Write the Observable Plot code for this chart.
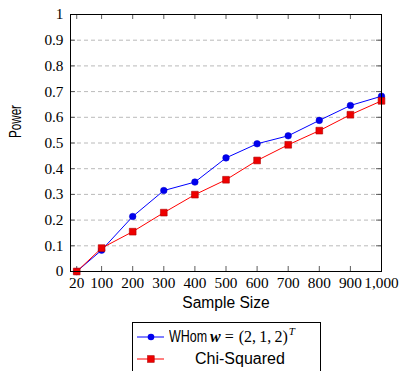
<!DOCTYPE html>
<html>
<head>
<meta charset="utf-8">
<script src="https://cdn.jsdelivr.net/npm/d3@7"></script>
<script src="https://cdn.jsdelivr.net/npm/@observablehq/plot@0.6"></script>
<style>
  html, body { margin: 0; padding: 0; background: #fff; }
  #wrap { position: relative; width: 401px; height: 371px; overflow: hidden; }
  #legend {
    position: absolute; left: 132px; top: 322px; width: 189px; height: 60px;
    border: 1px solid #000; background: #fff; box-sizing: border-box;
    font-family: "Liberation Sans", Arial, sans-serif; font-size: 16px; color: #000;
  }
  .sw { position: absolute; left: 4px; }
  .t { position: absolute; white-space: nowrap; line-height: 20px; height: 20px; }
  .m { font-family: "Liberation Serif", "Times New Roman", serif; font-size: 16px; }
  .whom { display: inline-block; width: 38px; transform: scaleX(0.78); transform-origin: left center; }
</style>
</head>
<body>
<div id="wrap">
  <div id="chart"></div>
  <div id="legend"></div>
</div>
<script>
const sampleSizes = [20, 100, 200, 300, 400, 500, 600, 700, 800, 900, 1000];
const whomPower   = [0, 0.083, 0.214, 0.315, 0.348, 0.442, 0.497, 0.528, 0.588, 0.646, 0.682];
const chiPower    = [0, 0.091, 0.155, 0.229, 0.299, 0.357, 0.432, 0.493, 0.548, 0.610, 0.664];
const xTicks = [20, 100, 200, 300, 400, 500, 600, 700, 800, 900, 1000];
const yTicks = [0, 0.1, 0.2, 0.3, 0.4, 0.5, 0.6, 0.7, 0.8, 0.9, 1];
const gridTicks = [0.1, 0.2, 0.3, 0.4, 0.5, 0.6, 0.7, 0.8, 0.9];
const seriesNames = ["WHom", "Chi-Squared"];

const whom = sampleSizes.map((x, i) => ({x, y: whomPower[i]}));
const chi = sampleSizes.map((x, i) => ({x, y: chiPower[i]}));

const W = 401, H = 322, mL = 70, mR = 20, mT = 14, mB = 51;
const pw = W - mL - mR, ph = H - mT - mB;
const serif = "Liberation Serif, Times New Roman, serif";
const sans = "Liberation Sans, Arial, sans-serif";
const fmtX = d => d3.format(",")(d);
const fmtY = d => String(d);

const plot = Plot.plot({
  width: W, height: H,
  marginLeft: mL, marginRight: mR, marginTop: mT, marginBottom: mB,
  style: {fontFamily: sans, fontSize: "15px", background: "#fff", color: "#000", overflow: "visible"},
  x: {domain: [0, 1000], axis: null},
  y: {domain: [0, 1], axis: null},
  marks: [
    Plot.ruleY(gridTicks, {y: d => d, stroke: "#a8a8a8", strokeWidth: 0.8, strokeDasharray: "4,3"}),
    Plot.tickY(yTicks, {y: d => d, insetRight: pw - 5, stroke: "#333", strokeWidth: 0.8}),
    Plot.tickY(yTicks, {y: d => d, insetLeft: pw - 5, stroke: "#333", strokeWidth: 0.8}),
    Plot.tickX(xTicks, {x: d => d, insetTop: ph - 5, stroke: "#333", strokeWidth: 0.8}),
    Plot.tickX(xTicks, {x: d => d, insetBottom: ph - 5, stroke: "#333", strokeWidth: 0.8}),
    // tick labels (serif, as in the LaTeX original)
    Plot.text(yTicks, {y: d => d, text: fmtY, frameAnchor: "left", dx: -7, textAnchor: "end",
      fontFamily: serif, fontSize: 15.3, fill: "#000"}),
    Plot.text(xTicks, {x: d => d, text: fmtX, frameAnchor: "bottom", dy: 6, lineAnchor: "top",
      fontFamily: serif, fontSize: 15.3, fill: "#000"}),
    Plot.text(["Power"], {frameAnchor: "left", dx: -55, dy: -5, rotate: -90, fontFamily: sans, fontSize: 17}),
    Plot.text(["Sample Size"], {frameAnchor: "bottom", dy: 36, fontFamily: sans, fontSize: 15.6}),
    Plot.line(whom, {x: "x", y: "y", stroke: "#0000ff", strokeWidth: 1}),
    Plot.line(chi, {x: "x", y: "y", stroke: "#ff0000", strokeWidth: 1}),
    Plot.dot(whom, {x: "x", y: "y", r: 3.3, fill: "#0000ee", stroke: "#0000cc", strokeWidth: 0.5}),
    Plot.dot(chi, {x: "x", y: "y", r: 3.8, symbol: "square", fill: "#ee0000", stroke: "#b00000", strokeWidth: 0.6}),
    Plot.frame({stroke: "#000", strokeWidth: 1})
  ]
});
// compress the rotated "Power" label to the reference length
d3.select(plot).selectAll("text").filter(function() { return this.textContent === "Power"; })
  .attr("textLength", 33).attr("lengthAdjust", "spacingAndGlyphs");
document.getElementById("chart").appendChild(plot);

const legend = document.getElementById("legend");
legend.innerHTML = `
  <svg class="sw" style="top:4px" width="30" height="20"><line x1="0" y1="10" x2="27" y2="10" stroke="#0000ff" stroke-width="1"/><circle cx="14" cy="10" r="3.3" fill="#0000ee"/></svg>
  <div class="t" style="left:36px; top:4px"><span class="whom">${seriesNames[0]}</span><span class="m" style="margin-left:3px"><b><i>w</i></b><span style="margin:0 5px 0 4px">=</span>(2,&thinsp;1,&thinsp;2)<i style="font-size:11px; position:relative; top:-7px; margin-left:1px">T</i></span></div>
  <svg class="sw" style="top:26px" width="30" height="20"><line x1="0" y1="10" x2="27" y2="10" stroke="#ff0000" stroke-width="1"/><rect x="10.6" y="6.7" width="6.6" height="6.6" fill="#ee0000" stroke="#b00000" stroke-width="0.6"/></svg>
  <div class="t" style="left:62px; top:26px">${seriesNames[1]}</div>`;
</script>
</body>
</html>
